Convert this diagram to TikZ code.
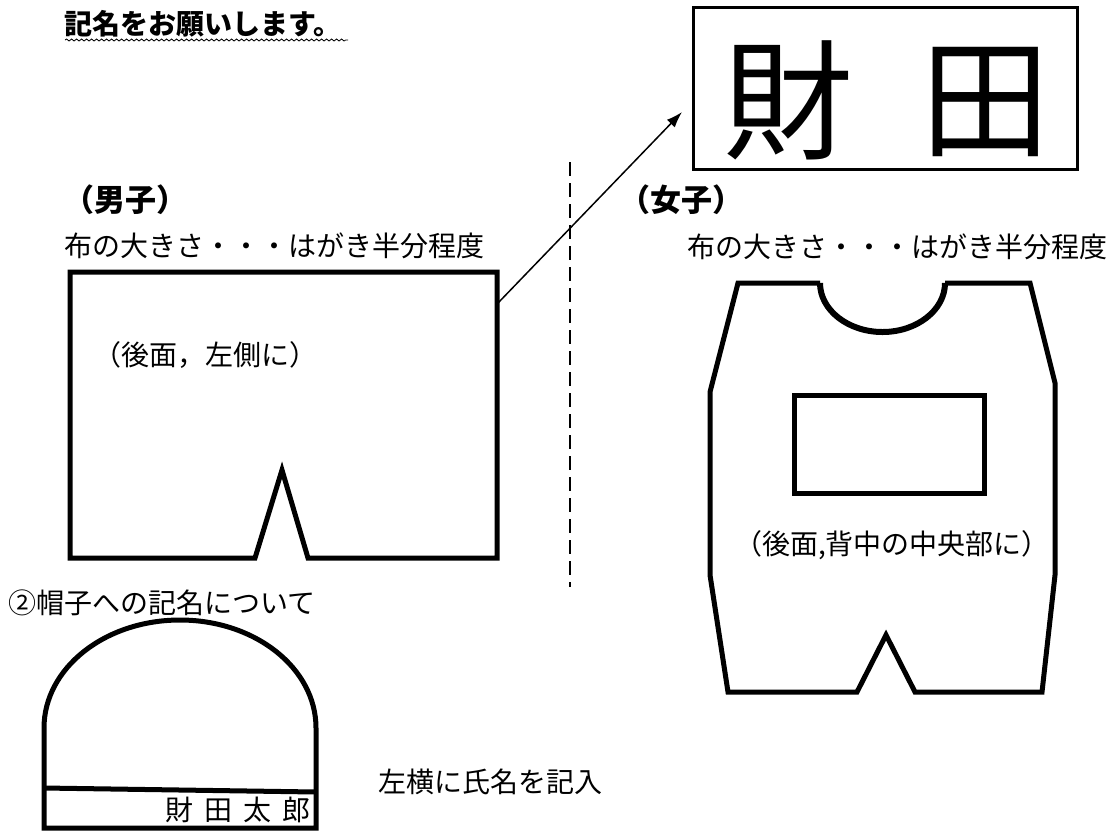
\documentclass[tikz,border=0pt]{standalone}
\usepackage{fontspec}
\setmainfont{Noto Sans CJK JP}
\usetikzlibrary{arrows.meta,decorations.pathmorphing}
\begin{document}
\begin{tikzpicture}[x=1pt,y=-1pt,
  outline/.style={line width=5pt,line join=miter},
  t28/.style={inner sep=0pt,font=\fontsize{28pt}{28pt}\selectfont},
  head/.style={inner sep=0pt,font=\fontsize{31pt}{31pt}\selectfont\bfseries},
  big/.style={inner sep=0pt,font=\fontsize{130pt}{130pt}\selectfont}]
\useasboundingbox (0,0) rectangle (1115,831);
\fill[white] (0,0) rectangle (1115,831);

% top line
\node[inner sep=0pt,font=\fontsize{28pt}{28pt}\selectfont\bfseries,anchor=west] (title) at (64,24) {記名をお願いします。};
\draw[line width=0.8pt,decorate,decoration={snake,amplitude=1pt,segment length=5pt}] (65,40) -- (348,40);

% name box
\draw[line width=3pt] (693,7) rectangle (1077,169);
\node[big] (k1) at (788,100) {財};
\node[big] (k2) at (985,102) {田};

% headings
\node[head] (boy) at (125,200) {（男子）};
\node[head] (girl) at (681,200) {（女子）};
\node[t28,anchor=west] (bsize) at (64,246) {布の大きさ・・・はがき半分程度};
\node[t28,anchor=west] (gsize) at (687,247) {布の大きさ・・・はがき半分程度};

% boy shorts
\draw[outline] (70,272) -- (497,272) -- (497,558) -- (308,558) -- (282,470) -- (255,558) -- (70,558) -- cycle;
\node[t28] (bnote) at (205,355) {（後面，左側に）};

% arrow
\coordinate (atail) at (498,303);
\coordinate (ahead) at (682,112);
\draw[line width=1.5pt,-{Latex[length=16pt,width=11pt]}] (atail) -- (ahead);

% dashed divider
\coordinate (dtop) at (570,162);
\coordinate (dbot) at (570,587);
\draw[line width=2pt,dash pattern=on 14pt off 7pt] (dtop) -- (dbot);

% girl shape
\draw[outline] (820,283) -- (738,283) -- (710,392) -- (710,575) -- (728,692) -- (857,692) -- (886,635) -- (915,692) -- (1042,692) -- (1055,575) -- (1055,383) -- (1030,283) -- (945,283);
\draw[line width=6pt] (820,283) .. controls (820,310) and (848,332) .. (882.5,332) .. controls (917,332) and (945,310) .. (945,283);
\draw[outline] (794,395) rectangle (984,493);
\node[t28] (gnote) at (892,545) {（後面,背中の中央部に）};

% hat
\node[t28,anchor=east] (hatt) at (316,603) {②帽子への記名について};
\draw[outline] (44,828) -- (44,728) .. controls (44,668) and (105,620) .. (180,620) .. controls (255,620) and (316,668) .. (316,728) -- (316,828) -- cycle;
\draw[line width=5pt] (44,788) -- (316,792);
\node[t28,anchor=east] (hname) at (311,810) {財\hspace{0.4em}田\hspace{0.4em}太\hspace{0.4em}郎};
\node[t28,anchor=west] (hnote) at (378,782) {左横に氏名を記入};
\end{tikzpicture}
\end{document}
